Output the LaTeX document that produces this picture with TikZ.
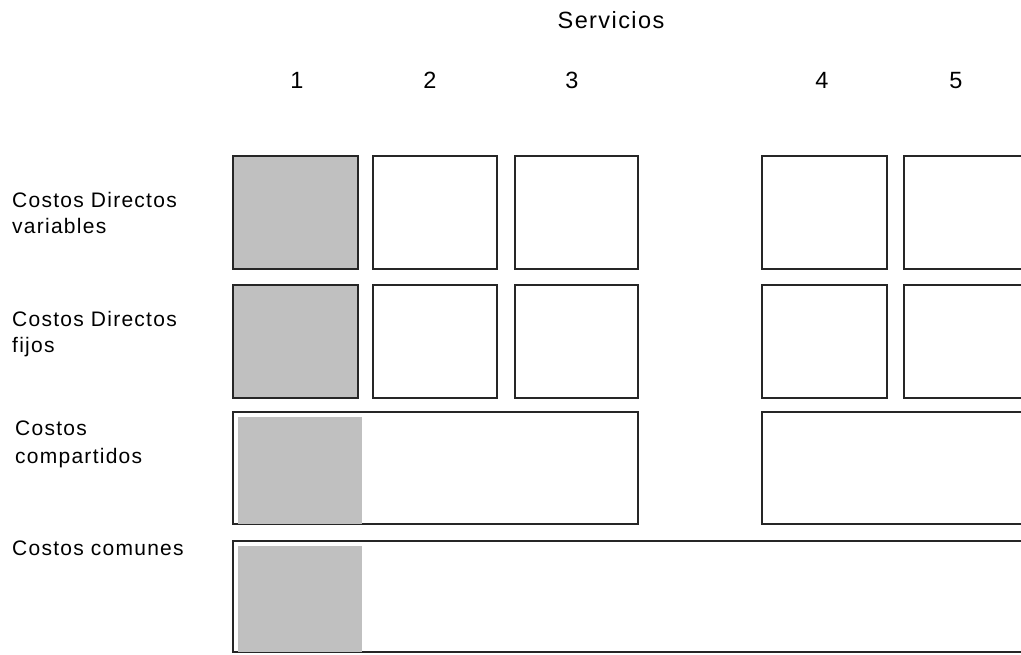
\documentclass[tikz,border=0pt]{standalone}
\usepackage{fontspec}
\setmainfont{Liberation Sans}[LetterSpace=6]
\usetikzlibrary{positioning}
\definecolor{shadegray}{RGB}{192,192,192}
\definecolor{edgegray}{RGB}{38,38,38}

\begin{document}
\begin{tikzpicture}[x=1pt, y=-1pt,
    cell/.style={draw=edgegray, line width=1.6pt},
    share/.style={fill=shadegray, draw=none},
    rowlbl/.style={font=\fontsize{21}{25.5}\selectfont, inner sep=0pt, anchor=base west, align=left},
    collbl/.style={font=\fontsize{23.5}{25}\selectfont, inner sep=0pt, anchor=base}]
  \useasboundingbox (0,0) rectangle (1021,654);
  \clip (0,0) rectangle (1021,654);

  % Header
  \node[collbl] (servicios) at (611,28) {Servicios};
  \foreach \x/\n in {297/1, 430/2, 572/3, 822/4, 956/5} {
    \node[collbl] (num\n) at (\x,88) {\n};
  }

  % Row labels (base = last line)
  \node[rowlbl] (dirvar) at (12,233) {Costos Directos\\variables};
  \node[rowlbl] (dirfij) at (12,352) {Costos Directos\\fijos};
  \node[rowlbl, font=\fontsize{21}{28}\selectfont] (compart) at (15,463) {Costos\\compartidos};
  \node[rowlbl] (comunes) at (12,555) {Costos comunes};

  % Direct costs: one box per service
  \fill[shadegray] (233,156) rectangle (358,269);
  \fill[shadegray] (233,285) rectangle (358,398);
  \foreach \y in {156, 285} {
    \foreach \x/\w in {233/125, 373/124, 515/123, 762/125, 904/125} {
      \draw[cell] (\x,\y) rectangle ++(\w,113);
    }
  }

  % Shared costs
  \draw[cell] (233,412) rectangle (638,524);
  \draw[cell] (762,412) rectangle (1040,524);
  \fill[share] (238,417) rectangle (362,523.5);

  % Common costs
  \draw[cell] (233,541) rectangle (1040,652);
  \fill[share] (238,546) rectangle (362,651.5);
\end{tikzpicture}
\end{document}
